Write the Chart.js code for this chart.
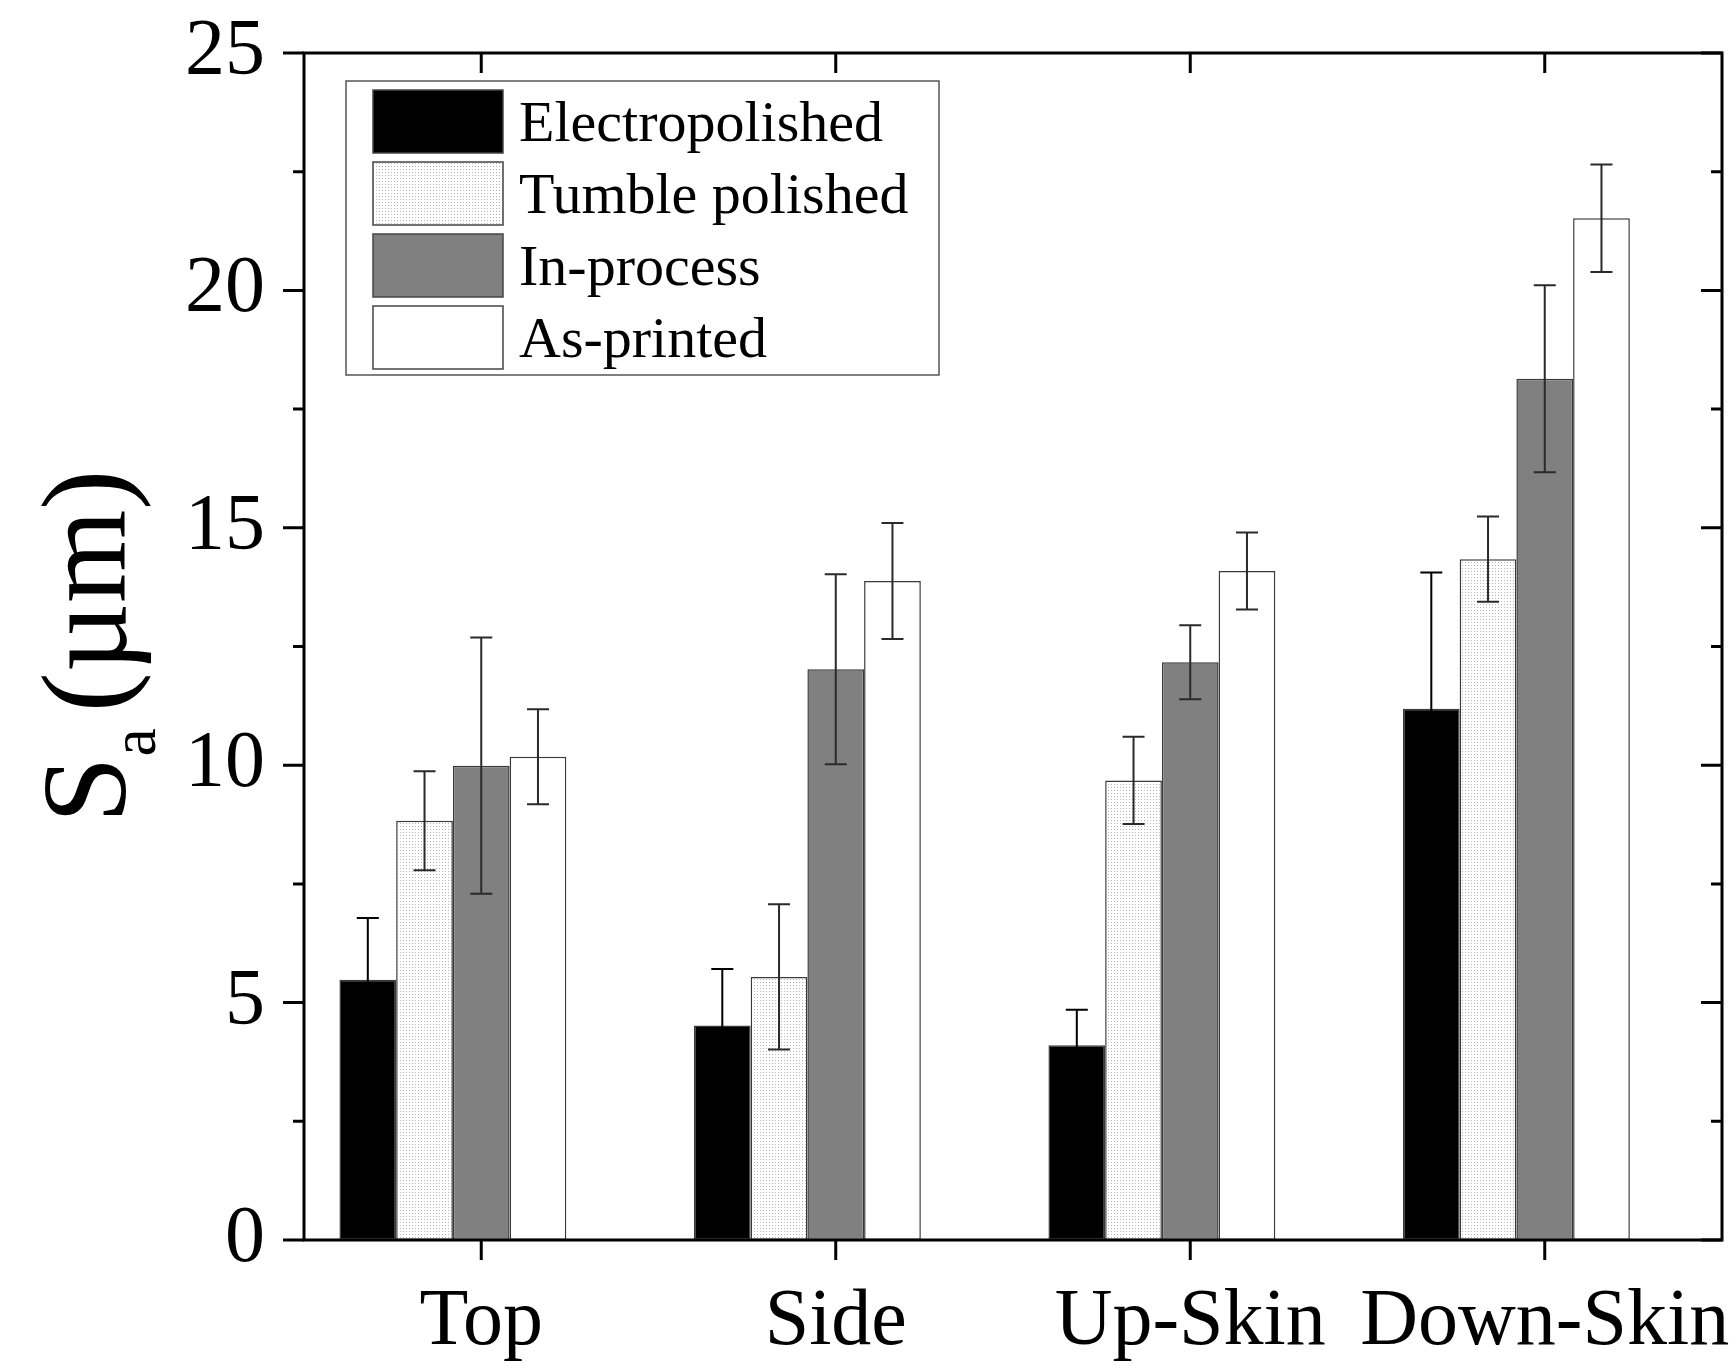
<!DOCTYPE html>
<html>
<head>
<meta charset="utf-8">
<title>Sa by surface</title>
<script src="https://cdn.jsdelivr.net/npm/chart.js@4.4.1/dist/chart.umd.min.js"></script>
<style>
  html, body { margin: 0; padding: 0; background: #fff; }
  canvas { display: block; }
</style>
</head>
<body>
<canvas id="saChart" width="1736" height="1369"></canvas>
<script>
// surfaces along the x axis
const surfaces = ["Top", "Side", "Up-Skin", "Down-Skin"];
const seriesNames = ["Electropolished", "Tumble polished", "In-process", "As-printed"];

// mean Sa (µm) and standard deviation for each surface
const electropolished = [5.48, 4.52, 4.10, 11.19];
const electropolishedErr = [1.30, 1.19, 0.75, 2.87];
const tumblePolished = [8.83, 5.54, 9.68, 14.34];
const tumblePolishedErr = [1.04, 1.53, 0.92, 0.90];
const inProcess = [9.99, 12.02, 12.17, 18.14];
const inProcessErr = [2.70, 2.00, 0.78, 1.97];
const asPrinted = [10.18, 13.88, 14.09, 21.52];
const asPrintedErr = [1.00, 1.22, 0.81, 1.13];

// y axis ticks
const yMajorTicks = [0, 5, 10, 15, 20, 25];
const yMinorTicks = [2.5, 7.5, 12.5, 17.5, 22.5];

const values = [electropolished, tumblePolished, inProcess, asPrinted];
const errors = [electropolishedErr, tumblePolishedErr, inProcessErr, asPrintedErr];

const serif = "'Liberation Serif', 'Times New Roman', serif";
const canvas = document.getElementById("saChart");
const ctx = canvas.getContext("2d");

// fine dot fill used for the tumble polished bars
function dotPattern() {
	const tile = document.createElement("canvas");
	tile.width = 3;
	tile.height = 3;
	const g = tile.getContext("2d");
	g.fillStyle = "#ffffff";
	g.fillRect(0, 0, 3, 3);
	g.fillStyle = "#b4b4b4";
	g.fillRect(1, 1, 1, 1);
	return ctx.createPattern(tile, "repeat");
}

const fills = ["#000000", dotPattern(), "#808080", "#ffffff"];
// error bars on the black bars are black so the lower half disappears
const errorColors = ["#000000", "#2a2a2a", "#2a2a2a", "#2a2a2a"];

const datasets = seriesNames.map((name, i) => ({
	label: name,
	data: values[i],
	backgroundColor: fills[i],
	borderColor: "#3a3a3a",
	borderWidth: 1.5,
	borderSkipped: false,
}));
// empty slot so each group leaves a gap after the as-printed bar
datasets.push({
	label: "",
	data: surfaces.map(() => null),
	backgroundColor: "rgba(0,0,0,0)",
	borderWidth: 0,
});

// error bars, axis frame, ticks, legend and y title
const decorations = {
	id: "decorations",
	afterDatasetsDraw(chart) {
		const { ctx, chartArea: a, scales } = chart;
		const x = scales.x;
		const y = scales.y;
		ctx.save();

		// error bars
		ctx.lineWidth = 2;
		values.forEach((vals, i) => {
			const meta = chart.getDatasetMeta(i);
			ctx.strokeStyle = errorColors[i];
			meta.data.forEach((bar, j) => {
				const hi = y.getPixelForValue(vals[j] + errors[i][j]);
				const lo = y.getPixelForValue(vals[j] - errors[i][j]);
				const cap = 11;
				ctx.beginPath();
				ctx.moveTo(bar.x, hi);
				ctx.lineTo(bar.x, lo);
				ctx.moveTo(bar.x - cap, hi);
				ctx.lineTo(bar.x + cap, hi);
				ctx.moveTo(bar.x - cap, lo);
				ctx.lineTo(bar.x + cap, lo);
				ctx.stroke();
			});
		});

		// frame
		ctx.strokeStyle = "#000";
		ctx.lineWidth = 3;
		ctx.strokeRect(a.left, a.top, a.right - a.left, a.bottom - a.top);

		// y ticks: outward on the left, inward on the right
		const tick = (v, len) => {
			const py = y.getPixelForValue(v);
			ctx.beginPath();
			ctx.moveTo(a.left - len, py);
			ctx.lineTo(a.left, py);
			ctx.moveTo(a.right - len, py);
			ctx.lineTo(a.right, py);
			ctx.stroke();
		};
		yMajorTicks.forEach((v) => tick(v, 21));
		yMinorTicks.forEach((v) => tick(v, 11));

		// x ticks: outward at the bottom, inward at the top
		surfaces.forEach((s, i) => {
			const px = x.getPixelForValue(i);
			ctx.beginPath();
			ctx.moveTo(px, a.bottom);
			ctx.lineTo(px, a.bottom + 20);
			ctx.moveTo(px, a.top);
			ctx.lineTo(px, a.top + 20);
			ctx.stroke();
		});
		ctx.restore();
	},
	afterDraw(chart) {
		const { ctx, chartArea: a } = chart;
		ctx.save();

		// legend
		const lx = a.left + 42;
		const ly = a.top + 28;
		ctx.fillStyle = "#fff";
		ctx.fillRect(lx, ly, 593, 294);
		ctx.strokeStyle = "#555";
		ctx.lineWidth = 1.5;
		ctx.strokeRect(lx, ly, 593, 294);
		ctx.font = `58px ${serif}`;
		ctx.textBaseline = "middle";
		ctx.textAlign = "left";
		seriesNames.forEach((name, i) => {
			const top = ly + 9 + i * 72;
			ctx.fillStyle = fills[i];
			ctx.fillRect(lx + 27, top, 130, 63);
			ctx.strokeStyle = "#444";
			ctx.strokeRect(lx + 27, top, 130, 63);
			ctx.fillStyle = "#000";
			ctx.fillText(name, lx + 173, top + 36);
		});

		// y axis title with subscript
		ctx.translate(125, (a.top + a.bottom) / 2);
		ctx.rotate(-Math.PI / 2);
		ctx.textBaseline = "alphabetic";
		const big = `120px ${serif}`;
		const small = `64px ${serif}`;
		ctx.font = big;
		const wS = ctx.measureText("S").width;
		const wUnit = ctx.measureText("(µm)").width;
		ctx.font = small;
		const wSub = ctx.measureText("a ").width;
		let x0 = -(wS + wSub + wUnit) / 2;
		ctx.fillStyle = "#000";
		ctx.font = big;
		ctx.fillText("S", x0, 0);
		ctx.font = small;
		ctx.fillText("a ", x0 + wS, 30);
		ctx.font = big;
		ctx.fillText("(µm)", x0 + wS + wSub, 0);
		ctx.restore();
	},
};

Chart.defaults.font.family = serif;
Chart.defaults.color = "#000";

new Chart(ctx, {
	type: "bar",
	data: {
		labels: surfaces,
		datasets: datasets,
	},
	options: {
		responsive: false,
		animation: false,
		devicePixelRatio: 1,
		layout: { padding: { top: 53, right: 14, bottom: 0, left: 0 } },
		datasets: { bar: { categoryPercentage: 0.8, barPercentage: 1.0 } },
		plugins: {
			legend: { display: false },
			tooltip: { enabled: false },
		},
		scales: {
			x: {
				type: "category",
				offset: true,
				grid: { display: false },
				border: { display: false },
				ticks: {
					color: "#000",
					font: { size: 80, family: serif },
					padding: 27,
					maxRotation: 0,
					minRotation: 0,
					autoSkip: false,
				},
				afterFit(scale) {
					scale.height = 129;
					scale.paddingLeft = 0;
					scale.paddingRight = 0;
				},
			},
			y: {
				min: 0,
				max: 25,
				grid: { display: false },
				border: { display: false },
				ticks: {
					stepSize: 5,
					color: "#000",
					font: { size: 80, family: serif },
					padding: 31,
				},
				afterFit(scale) {
					scale.width = 304;
					scale.paddingTop = 0;
					scale.paddingBottom = 0;
				},
			},
		},
	},
	plugins: [decorations],
});
</script>
</body>
</html>
